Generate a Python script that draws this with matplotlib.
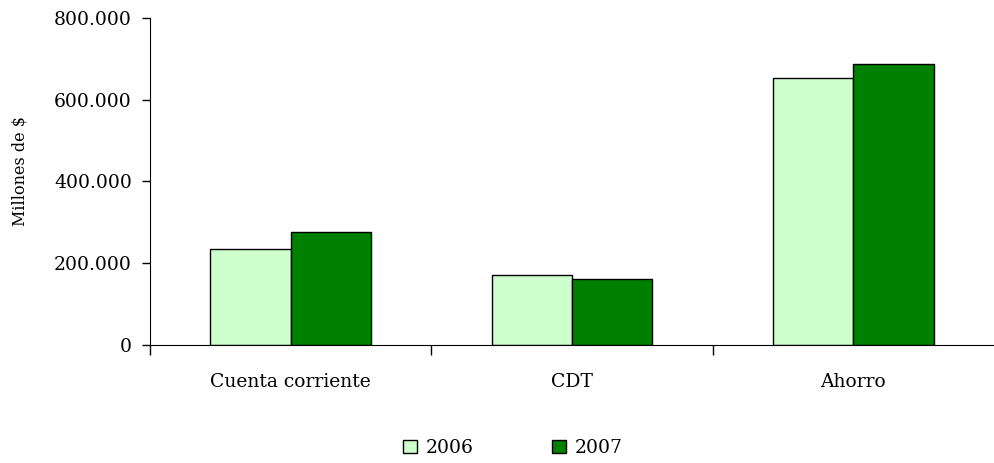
import numpy as np
import matplotlib.pyplot as plt
from matplotlib.ticker import FuncFormatter

# data
categories = ['Cuenta corriente', 'CDT', 'Ahorro']
years = ['2006', '2007']
v2006 = [235000, 171000, 654000]
v2007 = [276000, 161000, 687000]
colors = ['#CCFFCC', '#008000']

plt.rcParams['font.family'] = ['DejaVu Serif']

fig = plt.figure(figsize=(9.94, 4.63), dpi=100)
ax = fig.add_axes([150/994, 1-345/463, 1-150/994, (345-18)/463])

x = np.arange(len(categories))
w = 0.286
ax.bar(x - w/2, v2006, w, color=colors[0], edgecolor='black', linewidth=1, label=years[0])
ax.bar(x + w/2, v2007, w, color=colors[1], edgecolor='black', linewidth=1, label=years[1])

ax.set_xlim(-0.5, 2.5)
ax.set_ylim(0, 800000)
ax.set_yticks([0, 200000, 400000, 600000, 800000])
ax.yaxis.set_major_formatter(FuncFormatter(lambda v, p: f'{int(v):,}'.replace(',', '.')))

# category boundaries as tick marks, labels in the middle
ax.set_xticks([-0.5, 0.5, 1.5])
ax.set_xticklabels([])
ax.set_xticks(x, minor=True)
ax.set_xticklabels(categories, minor=True)
ax.tick_params(axis='x', which='minor', length=0, pad=20, labelsize=13.5)
ax.tick_params(axis='x', which='major', length=7, direction='out', width=1)
ax.tick_params(axis='y', length=6, width=1, labelsize=13.5, pad=7)

for s in ['top', 'right']:
    ax.spines[s].set_visible(False)

fig.text(20/994, 1-171/463, 'Millones de $', rotation=90, fontsize=11.5,
         ha='center', va='center')

fig.legend(loc='center', bbox_to_anchor=(513/994, 1-448/463), ncol=2, frameon=False,
           fontsize=13.5, handlelength=0.75, handleheight=0.75, handletextpad=0.45,
           columnspacing=4.2)

fig.savefig('out.png', dpi=100)
